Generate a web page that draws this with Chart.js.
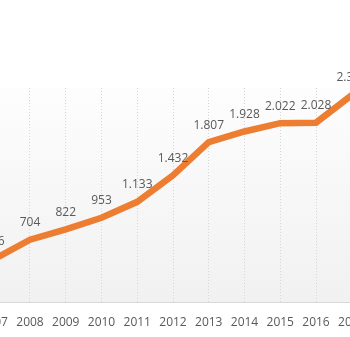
<!DOCTYPE html>
<html>
<head>
<meta charset="utf-8">
<script src="https://cdn.jsdelivr.net/npm/chart.js@4.4.1/dist/chart.umd.min.js"></script>
<style>
  html, body { margin: 0; padding: 0; background: #fff; }
  #wrap { position: relative; width: 350px; height: 337px; overflow: hidden; }
  #wrap canvas { position: absolute; left: -40px; top: 0; }
</style>
</head>
<body>
<div id="wrap"><canvas id="chart" width="422" height="337"></canvas></div>
<script>
const years = [2007, 2008, 2009, 2010, 2011, 2012, 2013, 2014, 2015, 2016, 2017]
const values = [486, 704, 822, 953, 1133, 1432, 1807, 1928, 2022, 2028, 2340]

const lineColor = '#ED7D31'
const textColor = '#595959'

// thousands separator is a dot, as in the original
const formatValue = n => {
  if (n < 1000) return String(n)
  return Math.floor(n / 1000) + '.' + String(n % 1000).padStart(3, '0')
}

const plotBackground = {
  id: 'plotBackground',
  beforeDraw (chart) {
    const { ctx, chartArea: a } = chart
    const g = ctx.createLinearGradient(0, a.top, 0, a.bottom)
    g.addColorStop(0, '#fdfdfd')
    g.addColorStop(1, '#f1f1f1')
    ctx.save()
    ctx.fillStyle = g
    ctx.fillRect(a.left, a.top, a.right - a.left, a.bottom - a.top)
    ctx.restore()
  }
}

const valueLabels = {
  id: 'valueLabels',
  afterDatasetsDraw (chart) {
    const ctx = chart.ctx
    const meta = chart.getDatasetMeta(0)
    ctx.save()
    ctx.font = '12px "Open Sans"'
    ctx.fillStyle = textColor
    ctx.textAlign = 'center'
    ctx.textBaseline = 'middle'
    meta.data.forEach((pt, i) => {
      ctx.fillText(formatValue(values[i]), pt.x, pt.y - 17)
    })
    ctx.restore()
  }
}

Chart.defaults.font.family = '"Open Sans"'
Chart.defaults.font.size = 12
Chart.defaults.color = textColor

new Chart(document.getElementById('chart'), {
  type: 'line',
  data: {
    datasets: [{
      data: years.map((y, i) => ({ x: y, y: values[i] })),
      borderColor: lineColor,
      borderWidth: 6.5,
      pointRadius: 0,
      tension: 0,
      fill: false
    }]
  },
  options: {
    responsive: false,
    animation: false,
    layout: { autoPadding: false, padding: { top: 88, left: 0, right: 0, bottom: 0 } },
    plugins: { legend: { display: false }, tooltip: { enabled: false } },
    scales: {
      x: {
        type: 'linear',
        min: 2006.042,
        max: 2017.846,
        afterFit: s => { s.height = 35 },
        grid: { color: '#d6d6d6', lineWidth: 1, drawTicks: false },
        border: { color: '#d9d9d9', width: 1, dash: [1, 2] },
        ticks: {
          stepSize: 1,
          includeBounds: false,
          autoSkip: false,
          maxRotation: 0,
          padding: 13,
          color: textColor,
          callback: v => String(v)
        }
      },
      y: { display: false, min: 0, max: 2420 }
    }
  },
  plugins: [plotBackground, valueLabels]
})
</script>
</body>
</html>
